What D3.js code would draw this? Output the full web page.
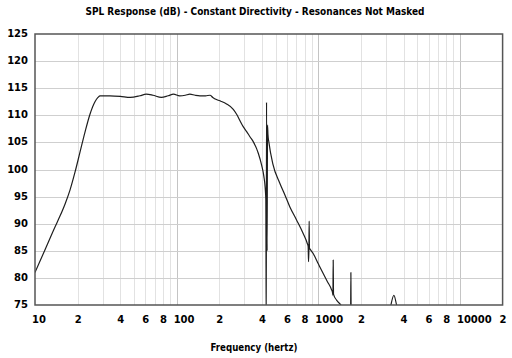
<!DOCTYPE html>
<html>
<head>
<meta charset="utf-8">
<script src="https://cdn.jsdelivr.net/npm/d3@7"></script>
<style>
  html, body { margin: 0; padding: 0; background: #ffffff; }
  svg { display: block; }
</style>
</head>
<body>
<div id="chart"></div>
<script>
// ---- data ----
const freqHz = [10, 11.77, 13.84, 15.01, 16.28, 17.66, 19.16, 20.78, 22.54, 24.44, 26.51, 27.84, 28.8, 33.8, 40, 47, 55, 61, 68, 78, 87, 95, 105, 115, 124, 135, 146, 160, 172, 180, 191, 205, 225, 251, 265, 280, 295, 312, 330, 348, 377, 398, 413, 422, 426, 429, 431, 435, 438, 441, 448, 478, 534, 581, 630, 702, 782, 835, 848, 853, 858, 862, 866, 875, 920, 1000, 1083, 1160, 1241, 1262, 1268, 1274, 1280, 1346, 1444, 1550, 1690, 1698, 1706, 1900, 2500, 3100, 3254, 3417, 3570, 3800];
const splDb = [81.0, 85.2, 89.4, 91.4, 93.6, 96.2, 99.5, 103.2, 106.9, 110.2, 112.5, 113.3, 113.6, 113.6, 113.5, 113.3, 113.6, 113.9, 113.7, 113.3, 113.6, 113.9, 113.6, 113.7, 113.9, 113.7, 113.6, 113.6, 113.7, 113.3, 112.9, 112.6, 112.1, 111.1, 110.2, 109.0, 107.9, 107.0, 106.0, 105.1, 103.0, 100.8, 98.7, 96.5, 94.5, 70, 112.4, 85, 108.2, 106.5, 105.0, 101.0, 97.5, 95.3, 93.1, 90.7, 88.2, 86.4, 85.8, 83.0, 85.0, 90.5, 85.5, 85.3, 84.5, 82.6, 80.8, 79.3, 77.8, 77.2, 76.8, 83.3, 77.0, 75.9, 75.0, 73.5, 72.0, 81.0, 72.0, 70.5, 69.0, 72.0, 75.0, 76.8, 75.0, 72.0];
const yTicks = [75, 80, 85, 90, 95, 100, 105, 110, 115, 120, 125];
const xTickValues = [10, 20, 40, 60, 80, 100, 200, 400, 600, 800, 1000, 2000, 4000, 6000, 8000, 10000, 20000];
const xTickLabels = ["10", "2", "4", "6", "8", "100", "2", "4", "6", "8", "1000", "2", "4", "6", "8", "10000", "2"];
const titleText = "SPL Response (dB) - Constant Directivity - Resonances Not Masked";
const xTitle = "Frequency (hertz)";

// ---- layout ----
const W = 512, H = 358;
const L = 35, R = 502.6, T = 34, B = 305;

const svg = d3.select("#chart").append("svg").attr("width", W).attr("height", H);

const x = d3.scaleLog().domain([10, 20000]).range([L, R]);
const y = d3.scaleLinear().domain([75, 125]).range([B, T]);

// grid lines: vertical
const gridX = [];
[10, 100, 1000, 10000].forEach(dec => {
  for (let k = 1; k <= 9; k++) {
    const v = dec * k;
    if (v > 10 && v < 20000) gridX.push(v);
  }
});
svg.append("g").selectAll("line").data(gridX).join("line")
  .attr("x1", d => Math.round(x(d)) + 0.5).attr("x2", d => Math.round(x(d)) + 0.5)
  .attr("y1", T).attr("y2", B)
  .attr("stroke", d => [100, 1000, 10000].includes(d) ? "#c4c4c4" : "#e2e2e2")
  .attr("stroke-width", 1);

// grid lines: horizontal
svg.append("g").selectAll("line").data(yTicks.slice(1, -1)).join("line")
  .attr("x1", L).attr("x2", R)
  .attr("y1", d => Math.round(y(d)) + 0.5).attr("y2", d => Math.round(y(d)) + 0.5)
  .attr("stroke", "#cfcfcf").attr("stroke-width", 1);

// clip
svg.append("clipPath").attr("id", "plotclip").append("rect")
  .attr("x", L).attr("y", T).attr("width", R - L).attr("height", B - T);

const pts = freqHz.map((f, i) => [f, splDb[i]]);
const line = d3.line().x(d => x(d[0])).y(d => y(d[1])).curve(d3.curveMonotoneX);
svg.append("path").datum(pts)
  .attr("clip-path", "url(#plotclip)")
  .attr("d", line)
  .attr("fill", "none").attr("stroke", "#1e1e1e").attr("stroke-width", 1.2)
  .attr("stroke-linejoin", "round");

// frame
svg.append("rect").attr("x", L).attr("y", T).attr("width", R - L).attr("height", B - T)
  .attr("fill", "none").attr("stroke", "#555").attr("stroke-width", 1.5);

// y axis labels
const yAxis = d3.axisLeft(y).tickValues(yTicks).tickSize(0).tickPadding(7).tickFormat(d3.format("d"));
const gy = svg.append("g").attr("transform", `translate(${L},0)`).call(yAxis);
gy.select(".domain").remove();
gy.selectAll("text").attr("font-family", "'DejaVu Sans', Verdana, sans-serif")
  .attr("font-weight", "bold").attr("font-size", 10).attr("fill", "#000").attr("dy", "0.25em");

// x axis labels
const xAxis = d3.axisBottom(x).tickValues(xTickValues).tickSize(0).tickPadding(11)
  .tickFormat((d, i) => xTickLabels[i]);
const gx = svg.append("g").attr("transform", `translate(0,${B})`).call(xAxis);
gx.select(".domain").remove();
gx.selectAll("text").attr("font-family", "'DejaVu Sans', Verdana, sans-serif")
  .attr("font-weight", "bold").attr("font-size", 10).attr("fill", "#000")
  .attr("text-anchor", (d, i) => xTickLabels[i].length > 1 ? "start" : "middle")
  .attr("dx", (d, i) => xTickLabels[i].length > 1 ? -3.5 : 0);

// title
svg.append("text").attr("x", 255).attr("y", 15).attr("text-anchor", "middle")
  .attr("font-family", "'DejaVu Sans', Verdana, sans-serif").attr("font-weight", "bold")
  .attr("font-size", 10).attr("textLength", 339).attr("lengthAdjust", "spacingAndGlyphs")
  .text(titleText);

svg.append("text").attr("x", 254).attr("y", 351).attr("text-anchor", "middle")
  .attr("font-family", "'DejaVu Sans', Verdana, sans-serif").attr("font-weight", "bold")
  .attr("font-size", 10).attr("textLength", 87).attr("lengthAdjust", "spacingAndGlyphs")
  .text(xTitle);
</script>
</body>
</html>
